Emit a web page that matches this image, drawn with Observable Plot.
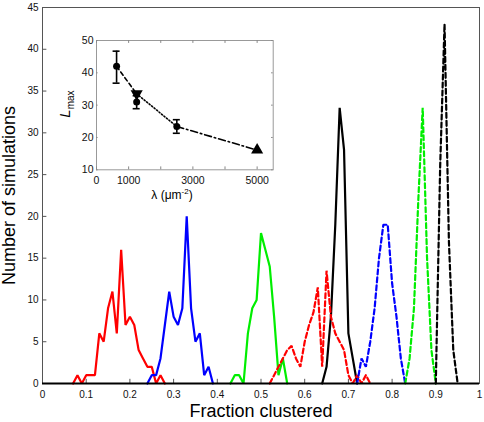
<!DOCTYPE html>
<html><head><meta charset="utf-8">
<script src="https://cdn.jsdelivr.net/npm/d3@7"></script>
<script src="https://cdn.jsdelivr.net/npm/@observablehq/plot@0.6"></script>
<style>
body{margin:0;background:#fff;}
#wrap{position:relative;width:484px;height:422px;font-family:"Liberation Sans",Arial,sans-serif;}
#wrap svg{position:absolute;overflow:visible;}
</style></head><body><div id="wrap"></div>
<script>
// ---- main histogram data (fraction clustered vs number of simulations)
const redX   = [0.07,0.08,0.09,0.10,0.11,0.12,0.13,0.14,0.15,0.16,0.17,0.18,0.19,0.20,0.21,0.22,0.23,0.24,0.25,0.26,0.27,0.28];
const redY   = [0,1,0,1,1,1,6,5,9,11,6,16,7,8,7,4,3,2,2,0,1,0];
const blueX  = [0.24,0.25,0.26,0.27,0.28,0.29,0.30,0.31,0.32,0.33,0.34,0.35,0.36,0.37,0.38,0.39];
const blueY  = [0,1,1,3,7,11,8,7,9,20,9,5,6,1,2,0];
const greenX = [0.43,0.44,0.45,0.46,0.47,0.48,0.49,0.50,0.51,0.52,0.53,0.54,0.55,0.56];
const greenY = [0,1,1,0,6,9,10,18,16,14,8,1,3,0];
const blackX = [0.64,0.65,0.66,0.67,0.68,0.69,0.70,0.71,0.72];
const blackY = [0,2,8,19,33,28,6,3,0];
const redDashX   = [0.52,0.53,0.54,0.55,0.56,0.57,0.58,0.59,0.60,0.61,0.62,0.63,0.64,0.65,0.66,0.67,0.68,0.69,0.70,0.71,0.72,0.73,0.74,0.75];
const redDashY   = [0,1,2,3,4,4.5,3,2,5,7,8.5,11.5,2,13.5,8,6,5,4,1,0,1,0,1,0];
const blueDashX  = [0.72,0.73,0.74,0.75,0.76,0.77,0.78,0.79,0.80,0.81,0.82,0.83];
const blueDashY  = [0,3,2,5,9,15,19,19,12,8,3,0];
const greenDashX = [0.83,0.84,0.85,0.86,0.87,0.88,0.89,0.90];
const greenDashY = [0,3,9,22,33,15,4,0];
const blackDashX = [0.90,0.91,0.92,0.93,0.94,0.95];
const blackDashY = [0,26,43,17,4,0];

const xTicks = [0,0.1,0.2,0.3,0.4,0.5,0.6,0.7,0.8,0.9,1];
const yTicks = [0,5,10,15,20,25,30,35,40,45];

// ---- inset data (L_max vs lambda)
const lambdaCircle = [625, 1250, 2500];
const lmaxCircle   = [42, 31, 23.4];
const lmaxErrLow   = [36.8, 28.9, 21.3];
const lmaxErrHigh  = [46.7, 32.9, 25.5];
const lambdaTriDown = [1250];
const lmaxTriDown   = [33.5];
const lambdaTriUp   = [5000];
const lmaxTriUp     = [16.1];
const pathLambda = [625, 1250, 2500, 5000];
const pathLmax   = [42, 33.5, 23.4, 16.1];
const pathStyles = ["dashed", "dotted", "dashdot"];
const insetXTicks = [0,1000,2000,3000,4000,5000];
const insetXLabels = [0,1000,3000,5000];
const insetYTicks = [10,20,30,40,50];

const FONT = '"Liberation Sans", Arial, Helvetica, sans-serif';
const zip = (xs, ys) => xs.map((x, i) => ({x, y: ys[i]}));

const series = [
  {x: redX, y: redY, color: "#ff0000", dash: null},
  {x: blueX, y: blueY, color: "#0000ff", dash: null},
  {x: greenX, y: greenY, color: "#00ee00", dash: null},
  {x: blackX, y: blackY, color: "#000000", dash: null},
  {x: redDashX, y: redDashY, color: "#ff0000", dash: "5,3"},
  {x: blueDashX, y: blueDashY, color: "#0000ff", dash: "5,3"},
  {x: greenDashX, y: greenDashY, color: "#00ee00", dash: "5,3"},
  {x: blackDashX, y: blackDashY, color: "#000000", dash: "5,3"}
];

const main = Plot.plot({
  width: 484, height: 422,
  marginLeft: 42, marginRight: 5, marginTop: 7, marginBottom: 39,
  x: {domain: [0, 1]},
  y: {domain: [0, 45]},
  style: {fontFamily: FONT, fontSize: "10px", background: "none", color: "#111"},
  marks: [
    Plot.frame({stroke: "#555"}),
    Plot.axisX(xTicks, {tickSize: 0, tickPadding: 7, label: null, fontSize: 10, tickFormat: d => String(d)}),
    Plot.axisY(yTicks, {tickSize: 0, tickPadding: 4, label: null, fontSize: 10, tickFormat: d => String(d)}),
    Plot.ruleX(xTicks, {x: d => d, y1: 0, y2: 0.5, stroke: "#555"}),
    Plot.ruleY(yTicks, {y: d => d, x1: 0, x2: 0.01, stroke: "#555"}),
    ...series.map(s => Plot.line(zip(s.x, s.y), {x: "x", y: "y", stroke: s.color, strokeWidth: 2.2, strokeDasharray: s.dash, strokeLinejoin: "miter"})),
    Plot.ruleY([0], {stroke: "#000", strokeWidth: 2}),
    Plot.text(["Fraction clustered"], {text: d => d, frameAnchor: "bottom", lineAnchor: "middle", textAnchor: "middle", dy: 28, fontSize: 18, fill: "#000"}),
    Plot.text(["Number of simulations"], {text: d => d, frameAnchor: "left", lineAnchor: "middle", textAnchor: "middle", rotate: -90, dx: -33, fontSize: 18, fill: "#000"})
  ]
});
main.style.left = "0px"; main.style.top = "0px";

const segs = pathStyles.map((st, i) => ({
  style: st,
  pts: [{x: pathLambda[i], y: pathLmax[i]}, {x: pathLambda[i+1], y: pathLmax[i+1]}]
}));
const dashFor = {dashed: "4,3", dotted: "1.2,2", dashdot: "7,3,1.5,3"};
const circles = lambdaCircle.map((x, i) => ({x, y: lmaxCircle[i], lo: lmaxErrLow[i], hi: lmaxErrHigh[i]}));

const inset = Plot.plot({
  width: 222, height: 175,
  marginLeft: 40, marginRight: 5.3, marginTop: 10, marginBottom: 35.7,
  x: {domain: [0, 5500]},
  y: {domain: [10, 50]},
  style: {fontFamily: FONT, fontSize: "10.5px", background: "#fff", color: "#111"},
  marks: [
    Plot.frame({stroke: "#999"}),
    Plot.axisX(insetXLabels, {tickSize: 0, tickPadding: 7, label: null, fontSize: 10.5, tickFormat: d => String(d)}),
    Plot.axisY(insetYTicks, {tickSize: 0, tickPadding: 3, label: null, fontSize: 10.5, tickFormat: d => String(d)}),
    Plot.ruleX(insetXTicks, {x: d => d, y1: 10, y2: 10.9, stroke: "#888"}),
    Plot.ruleX(insetXTicks, {x: d => d, y1: 50, y2: 49.1, stroke: "#888"}),
    Plot.ruleY(insetYTicks, {y: d => d, x1: 0, x2: 50, stroke: "#888"}),
    Plot.ruleY(insetYTicks, {y: d => d, x1: 5500, x2: 5450, stroke: "#888"}),
    ...segs.map(s => Plot.line(s.pts, {x: "x", y: "y", stroke: "#000", strokeWidth: 1.6, strokeDasharray: dashFor[s.style]})),
    Plot.ruleX(circles, {x: "x", y1: "lo", y2: "hi", stroke: "#000", strokeWidth: 1.6}),
    Plot.ruleY(circles, {y: "lo", x1: "x", x2: "x", insetLeft: -3.5, insetRight: -3.5, stroke: "#000", strokeWidth: 1.6}),
    Plot.ruleY(circles, {y: "hi", x1: "x", x2: "x", insetLeft: -3.5, insetRight: -3.5, stroke: "#000", strokeWidth: 1.6}),
    Plot.dot(circles, {x: "x", y: "y", r: 3.5, fill: "#000", stroke: "none"}),
    Plot.dot(zip(lambdaTriDown, lmaxTriDown), {x: "x", y: "y", symbol: "triangle", rotate: 180, r: 4.5, fill: "#000", stroke: "none"}),
    Plot.dot(zip(lambdaTriUp, lmaxTriUp), {x: "x", y: "y", symbol: "triangle", r: 4.5, fill: "#000", stroke: "none"})
  ]
});
inset.style.left = "56px"; inset.style.top = "30px";

// inset axis titles with sub/superscripts
const isvg = d3.select(inset);
const yl = isvg.append("text")
  .attr("transform", "translate(14,74) rotate(-90)")
  .attr("text-anchor", "middle")
  .attr("font-family", FONT).attr("fill", "#000");
yl.append("tspan").attr("font-size", 15).attr("font-style", "italic").text("L");
yl.append("tspan").attr("font-size", 10).attr("dy", 4).text("max");
const xl = isvg.append("text")
  .attr("x", 116).attr("y", 169)
  .attr("text-anchor", "middle")
  .attr("font-family", FONT).attr("font-size", 12).attr("fill", "#000");
xl.append("tspan").text("λ (μm");
xl.append("tspan").attr("font-size", 8).attr("dy", -5).text("-2");
xl.append("tspan").attr("dy", 5).text(")");

const wrap = document.getElementById("wrap");
wrap.appendChild(main);
wrap.appendChild(inset);
</script>
</body></html>
